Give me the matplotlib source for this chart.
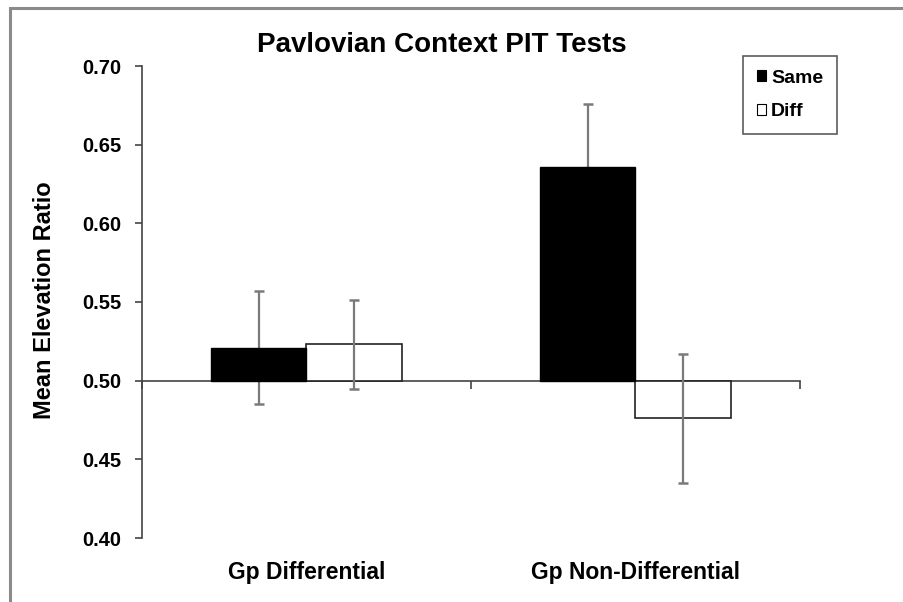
import matplotlib
matplotlib.use("Agg")
import matplotlib.pyplot as plt
import matplotlib.transforms as mtransforms
from matplotlib.patches import Patch, Rectangle
import numpy as np

plt.rcParams['font.family'] = ['Liberation Sans', 'DejaVu Sans']
plt.rcParams['font.weight'] = 'bold'

title = "Pavlovian Context PIT Tests"
ylabel = "Mean Elevation Ratio"
categories = ["Gp Differential", "Gp Non-Differential"]
series_names = ["Same", "Diff"]
same_vals = [0.521, 0.636]
diff_vals = [0.523, 0.476]
same_err = [0.036, 0.040]
diff_err = [0.028, 0.041]
yticks = [0.40, 0.45, 0.50, 0.55, 0.60, 0.65, 0.70]
baseline = 0.50

W, H = 904, 602
fig = plt.figure(figsize=(W / 100, H / 100), dpi=100)
ax = fig.add_axes([142 / W, 1 - 538 / H, (800 - 142) / W, (538 - 66) / H])

x = np.arange(len(categories))
bw = 0.29
off = 0.145

same_h = [v - baseline for v in same_vals]
diff_h = [v - baseline for v in diff_vals]

ax.bar(x + off, diff_h, bw, bottom=baseline, color='white', edgecolor='#222222',
       linewidth=1.2, zorder=2)
eb1 = ax.errorbar(x + off, diff_vals, yerr=diff_err, fmt='none', ecolor='#7a7a7a',
                  elinewidth=1.6, capsize=3.5, capthick=1.8, zorder=3)
eb2 = ax.errorbar(x - off, same_vals, yerr=same_err, fmt='none', ecolor='#7a7a7a',
                  elinewidth=1.6, capsize=3.5, capthick=1.8, zorder=3)
for eb in (eb1, eb2):
    for cl in eb[1]:
        cl.set_color('#111111')
ax.bar(x - off, same_h, bw, bottom=baseline, color='black', edgecolor='black',
       linewidth=1.0, zorder=4)

ax.set_xlim(-0.5, len(categories) - 0.5)
ax.set_ylim(yticks[0], yticks[-1])
ax.set_yticks(yticks)
ax.set_yticklabels([f"{t:.2f}" for t in yticks], fontsize=14.5, fontweight='bold')

ax.spines['top'].set_visible(False)
ax.spines['right'].set_visible(False)
ax.spines['bottom'].set_position(('data', baseline))
ax.spines['bottom'].set_color('#444444')
ax.spines['left'].set_color('#444444')
ax.spines['bottom'].set_linewidth(1.2)
ax.spines['left'].set_linewidth(1.2)
ax.spines['bottom'].set_zorder(1)
ax.set_xticks(np.arange(-0.5, len(categories), 1.0))
ax.set_xticklabels([])
ax.tick_params(axis='x', direction='out', length=6, width=1.2, color='#444444')
ax.tick_params(axis='y', direction='out', length=5, width=1.2, color='#444444', pad=10)

trans = mtransforms.blended_transform_factory(ax.transData, fig.transFigure)
for xi, c in zip(x, categories):
    ax.text(xi, 1 - 572 / H, c, transform=trans, ha='center', va='center',
            fontsize=16.5, fontweight='bold')

fig.text(45 / W, 1 - 300 / H, ylabel, rotation=90, ha='center', va='center',
         fontsize=17, fontweight='bold')
fig.text(442 / W, 1 - 45 / H, title, ha='center', va='center',
         fontsize=20, fontweight='bold')

handles = [Patch(facecolor='black', edgecolor='black', linewidth=0.8),
           Patch(facecolor='white', edgecolor='black', linewidth=0.8)]
leg = fig.legend(handles, series_names, loc='upper left',
                 bbox_to_anchor=(743 / W, 1 - 56 / H), bbox_transform=fig.transFigure,
                 borderaxespad=0, fancybox=False, frameon=True,
                 prop={'weight': 'bold', 'size': 14},
                 handlelength=0.5, handleheight=0.5, handletextpad=0.25,
                 labelspacing=0.85, borderpad=0.7)
leg.get_frame().set_edgecolor('#333333')
leg.get_frame().set_linewidth(1.2)

fig.patches.append(Rectangle((10 / W, -0.1), 1.2, 1.1 - 8 / H, transform=fig.transFigure,
                             fill=False, edgecolor='#8a8a8a', linewidth=2.2))

fig.savefig("out.png", dpi=100)
